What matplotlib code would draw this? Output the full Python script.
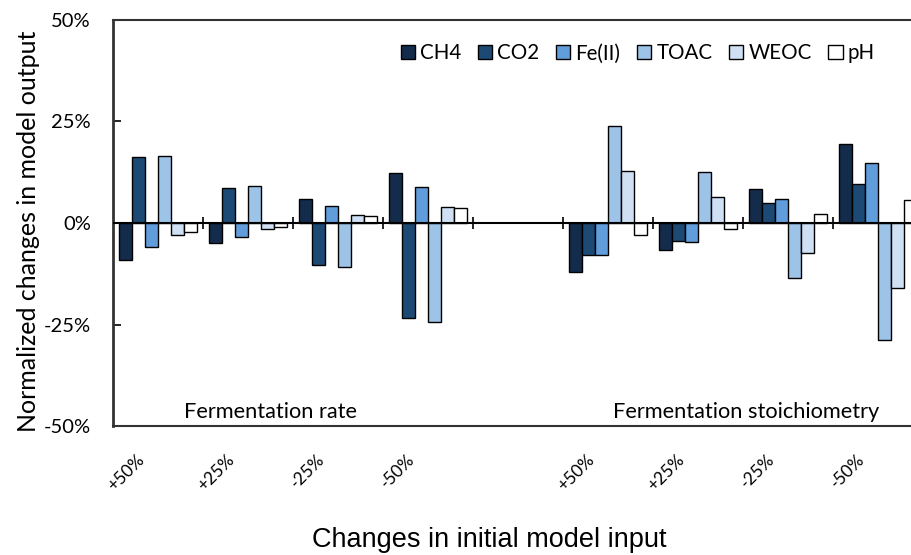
import numpy as np
import matplotlib
matplotlib.use("Agg")
import matplotlib.pyplot as plt
import matplotlib.transforms as mtransforms

# sensitivity of model outputs (%), one list per output variable
groups = ["+50%", "+25%", "-25%", "-50%", "", "+50%", "+25%", "-25%", "-50%"]
ch4 = [-9.1, -5.0, 5.8, 12.3, np.nan, -12.0, -6.6, 8.4, 19.4]
co2 = [16.3, 8.7, -10.3, -23.5, np.nan, -8.0, -4.4, 4.9, 9.5]
fe2 = [-6.0, -3.4, 4.1, 8.8, np.nan, -7.9, -4.6, 6.0, 14.8]
toac = [16.6, 9.0, -10.9, -24.4, np.nan, 24.0, 12.6, -13.6, -28.7]
weoc = [-3.0, -1.6, 2.0, 4.0, np.nan, 12.8, 6.5, -7.3, -16.1]
ph = [-2.2, -1.1, 1.7, 3.6, np.nan, -3.0, -1.6, 2.2, 5.6]

series = [("CH4", ch4), ("CO2", co2), ("Fe(II)", fe2),
          ("TOAC", toac), ("WEOC", weoc), ("pH", ph)]
colors = ["#132c4b", "#1c4a74", "#619ddb", "#9dc3e7", "#d0e0f4", "#ffffff"]

plt.rcParams['font.family'] = ['Lato', 'DejaVu Sans']

fig = plt.figure(figsize=(9.12, 5.55), dpi=100)
ax = fig.add_axes([113 / 912, 129 / 555, 810 / 912, 406 / 555])

x = np.arange(len(groups))
w = 0.8667 / len(series)
left = 0.0667
for i, (name, vals) in enumerate(series):
    ax.bar(x + left + i * w, vals, width=w, align="edge", color=colors[i],
           edgecolor="black", linewidth=1.0, label=name, zorder=3)

ax.set_xlim(0, len(groups))
ax.set_ylim(-50, 50)
ax.axhline(0, color="black", lw=1.5, zorder=4)
ax.vlines(x[1:], -1.6, 1.6, color="black", lw=1.2, zorder=4)

ax.set_yticks([-50, -25, 0, 25, 50])
ax.set_yticklabels(["-50%", "-25%", "0%", "25%", "50%"], fontsize=14.5)
ax.tick_params(axis="y", direction="in", length=6, width=1.2, pad=16)

keep = [k for k, g in enumerate(groups) if g]
ax.set_xticks(x[keep] + 0.5)
ax.set_xticklabels([groups[k] for k in keep], rotation=45, ha="right",
                   va="center", rotation_mode="anchor", fontsize=12.5)
ax.tick_params(axis="x", length=0, pad=0)
shift = mtransforms.ScaledTranslation(-16 / 100, -31 / 100, fig.dpi_scale_trans)
for lab in ax.get_xticklabels():
    lab.set_transform(lab.get_transform() + shift)

for s in ax.spines.values():
    s.set_color("#333333")
    s.set_linewidth(1.5)
ax.spines["left"].set_linewidth(2)

px = mtransforms.Affine2D().scale(1, -1).translate(0, 555)
ax.text(271, 412, "Fermentation rate", fontsize=15.7, ha="center", va="center",
        transform=px)
ax.text(746, 412, "Fermentation stoichiometry", fontsize=15.7, ha="center", va="center",
        transform=px)

ax.legend(loc="upper center", bbox_to_anchor=(0.648, 0.988), ncol=6, frameon=False,
          fontsize=14.8, handlelength=0.7, handleheight=0.7, handletextpad=0.25,
          columnspacing=0.8)

fig.text(29 / 912, 1 - 231 / 555, "Normalized changes in model output",
         rotation=90, ha="center", va="center", fontsize=18)
fig.text(489 / 912, 1 - 540 / 555, "Changes in initial model input", ha="center", va="center",
         fontsize=19.5, family=["Liberation Sans Narrow", "Liberation Sans"])

fig.savefig("out.png", dpi=100)
